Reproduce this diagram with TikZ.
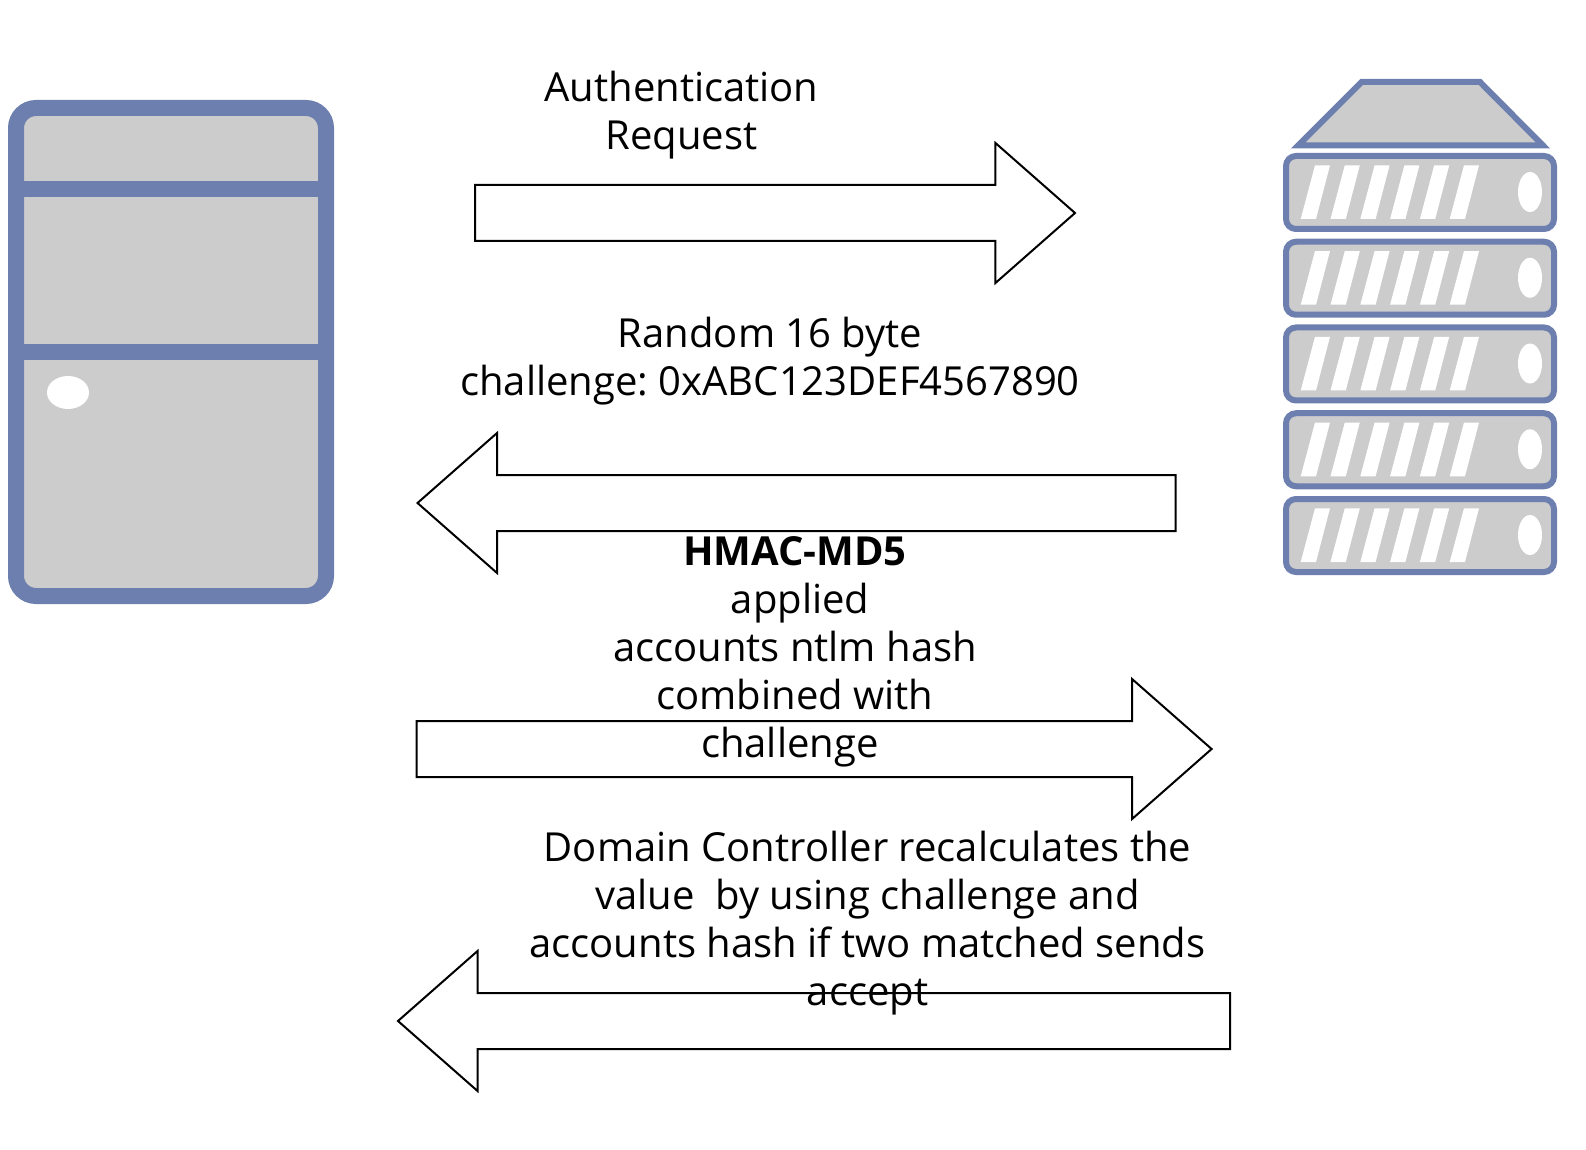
\documentclass[tikz,border=0pt]{standalone}
\usepackage{fontspec}
\setmainfont{Open Sans}
\usetikzlibrary{positioning,shapes.arrows}
\definecolor{caseblue}{HTML}{6D7FAE}
\definecolor{casegray}{HTML}{CCCCCC}
\newcommand{\padspace}{\hspace*{.26em}}

\begin{document}
\frenchspacing
\begin{tikzpicture}[
x=0.5pt, y=-0.5pt,
blockarrow/.style={single arrow, draw=black, fill=white, line width=1pt, inner xsep=0pt, inner ysep=13.5pt, outer sep=0pt, minimum width=69pt, single arrow head extend=21pt, single arrow tip angle=82.7, single arrow head indent=0pt, anchor=tail},
leftarrow/.style={blockarrow, shape border rotate=180},
caption/.style={align=center, inner sep=0pt, font=\fontsize{20}{24}\selectfont},
casing/.style={draw=caseblue, fill=casegray},
]
\useasboundingbox (0,0) rectangle (1586,1150);

%Client computer
\draw[casing, line width=8pt, rounded corners=10pt] (16,108) rectangle (326,596);
\draw[caseblue, line width=8pt] (16,189) -- (326,189);
\draw[caseblue, line width=8pt] (16,352) -- (326,352);
\fill[white] (68,392.5) ellipse (21 and 16.5);

%Domain controller
\draw[casing, line width=3pt, miter limit=10] (1361.5,82) -- (1480,82) -- (1543,145.5) -- (1298,145.5) -- cycle;
\foreach \boxtop in {153,238.75,324.5,410.25,496} {
\begin{scope}[shift={(0,\boxtop)}]
\draw[casing, line width=3pt, rounded corners=5pt] (1286,3) rectangle (1554,76);
\foreach \barx in {0,1,...,5} {
\fill[white] ({1300.7+\barx*29.8},66) -- ({1316+\barx*29.8},66) -- ({1330+\barx*29.8},12.3) -- ({1315+\barx*29.8},12.3) -- cycle;
}
\fill[white] (1530,39) ellipse (12 and 20);
\end{scope}
}

%Arrows
\node[blockarrow, minimum height=300pt] (request) at (475,213) {};
\node[leftarrow, minimum height=379pt] (challenge) at (1175.5,503) {};
\node[blockarrow, minimum height=397.5pt] (response) at (416.6,749) {};
\node[leftarrow, minimum height=416pt] (accept) at (1230,1021) {};

%Labels
\node[caption] (request_txt) at (681.5,115.6) {Authentication\\Request};
\node[caption] (challenge_txt) at (770,361) {Random 16 byte\\challenge: 0xABC123DEF4567890};
\node[caption] (response_txt) at (795,652) {\textbf{HMAC-MD5}\\\padspace applied\\accounts ntlm hash\\combined with\\challenge\padspace};
\node[caption] (accept_txt) at (867.5,923) {Domain Controller recalculates the\\value\ \ by using challenge and\\accounts hash if two matched sends\\accept};
\end{tikzpicture}
\end{document}
